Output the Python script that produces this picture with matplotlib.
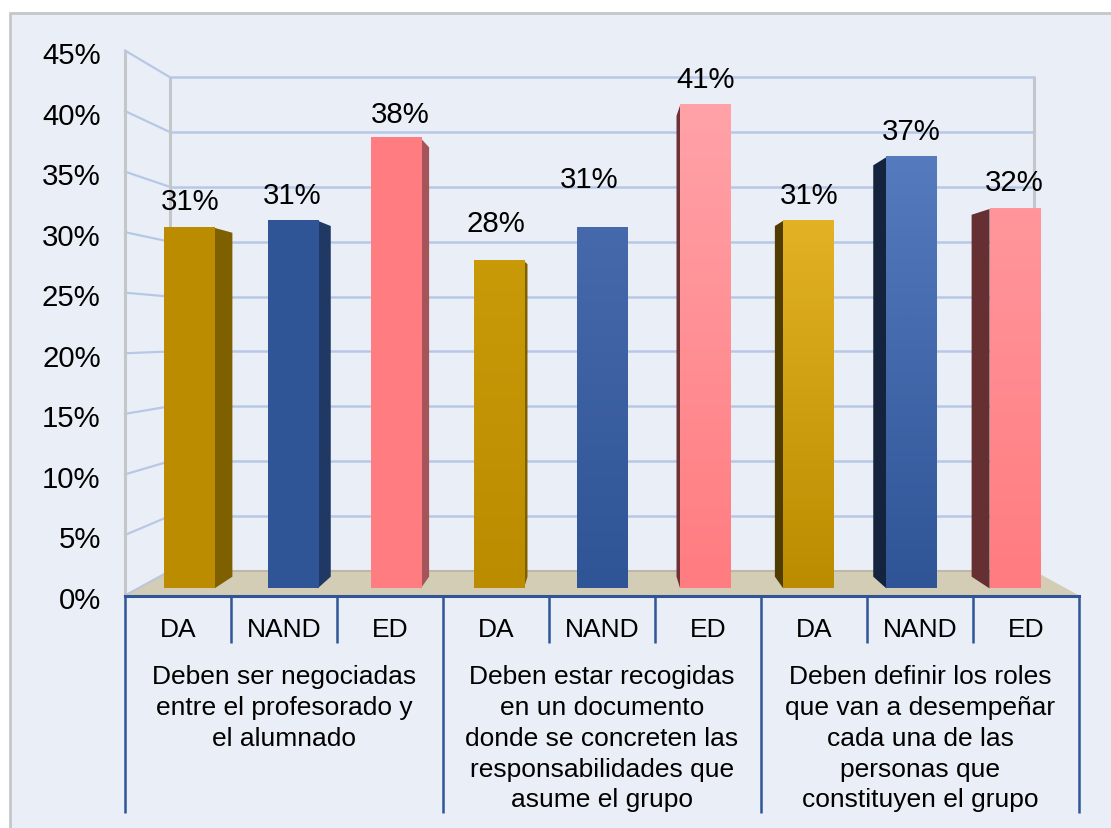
import numpy as np
import matplotlib
matplotlib.use('Agg')
import matplotlib.pyplot as plt
from matplotlib.colors import LinearSegmentedColormap
from matplotlib.patches import Polygon, Rectangle
from matplotlib.transforms import ScaledTranslation

plt.rcParams['font.family'] = ['Liberation Sans', 'DejaVu Sans']

# data
sub_labels = ['DA', 'NAND', 'ED', 'DA', 'NAND', 'ED', 'DA', 'NAND', 'ED']
values = [30.6, 31.2, 38.2, 27.8, 30.6, 41.0, 31.2, 36.6, 32.2]
group_labels = [
    'Deben ser negociadas\nentre el profesorado y\nel alumnado',
    'Deben estar recogidas\nen un documento\ndonde se concreten las\nresponsabilidades que\nasume el grupo',
    'Deben definir los roles\nque van a desempeñar\ncada una de las\npersonas que\nconstituyen el grupo',
]
y_ticks = [0, 5, 10, 15, 20, 25, 30, 35, 40, 45]

# bar styles: (colour at the top, colour at the bottom, side colour)
bar_styles = [
    ('#BC8C00', '#BC8C00', '#7F6000'), ('#2F5597', '#2F5597', '#1F3864'), ('#FF7C80', '#FF7C80', '#A5555A'),
    ('#C89A08', '#BC8C00', '#7F6000'), ('#4669AB', '#2F5597', '#1F3864'), ('#FFA2A8', '#FF7C80', '#6E3236'),
    ('#E2B224', '#BC8C00', '#503C00'), ('#557ABD', '#2F5597', '#14243F'), ('#FF969B', '#FF7C80', '#663033'),
]
# label offsets from the bar's top centre, in pixels
label_offsets = [(1, 27), (0, 26), (4, 24), (-3, 38), (-13, 49), (0, 26), (1, 26), (0, 26), (0, 27)]

W, H = 1111, 829
bg = '#EAEFF7'
grid_c = '#B7C8E6'
wall_c = '#C4C6CA'
axis_c = '#2F5597'
floor_c = '#D3CDB6'

# perspective of the fake 3d box, in data units
x_van, y_van = 4.0, 21.6
box_shrink = 0.905   # back wall
bar_front = 0.973
bar_back = 0.928
bar_width = 0.472


def proj(x, y, s):
    return x_van + (x - x_van) * s, y_van + (y - y_van) * s


fig = plt.figure(figsize=(W / 100, H / 100), dpi=100, facecolor='white')
# panel runs off the right and bottom edges, only left and top borders show
fig.add_artist(Rectangle((10 / W, -0.02), 1.0, (H - 14) / H + 0.02, transform=fig.transFigure,
                         facecolor=bg, edgecolor=wall_c, linewidth=2, zorder=-1))

ax = fig.add_axes([125 / W, (H - 596.5) / H, 954 / W, 545 / H])
ax.set_xlim(-0.5, 8.5)
ax.set_ylim(0, 45)
ax.patch.set_alpha(0)
for s in ax.spines.values():
    s.set_visible(False)
ax.set_autoscale_on(False)

ax.set_xticks([])
ax.set_yticks(y_ticks)
ax.set_yticklabels([f'{v}%' for v in y_ticks], fontsize=21.2)
ax.tick_params(axis='y', length=0, pad=17.5)
down = ScaledTranslation(0, -1.5 / 100, fig.dpi_scale_trans)
for t in ax.get_yticklabels():
    t.set_transform(t.get_transform() + down)

# walls and gridlines
for v in y_ticks[1:]:
    x0, y0 = proj(-0.5, v, box_shrink)
    x1, _ = proj(8.5, v, box_shrink)
    ax.plot([-0.5, x0], [v, y0], color=grid_c, lw=1.6, zorder=1, clip_on=False)
    ax.plot([x0, x1], [y0, y0], color=grid_c, lw=1.8, zorder=1, clip_on=False)

xb0, yb0 = proj(-0.5, 0, box_shrink)
xb1, _ = proj(8.5, 0, box_shrink)
_, ybt = proj(-0.5, 45, box_shrink)
ax.plot([-0.5, -0.5], [0, 45], color=wall_c, lw=2.2, zorder=1.5, clip_on=False, solid_capstyle='butt')
ax.plot([xb0, xb0], [yb0, ybt], color=wall_c, lw=2.2, zorder=1.5, clip_on=False, solid_capstyle='butt')
ax.plot([xb1, xb1], [yb0, ybt], color=wall_c, lw=2.2, zorder=1.5, clip_on=False, solid_capstyle='butt')

# floor
ax.add_patch(Polygon([(-0.5, 0), (8.5, 0), (xb1, yb0), (xb0, yb0)], closed=True, facecolor=floor_c,
                     edgecolor='none', zorder=2, clip_on=False))
ax.plot([xb0, xb1], [yb0, yb0], color='#BDB8A8', lw=1.5, zorder=2.1, clip_on=False)
ax.plot([-0.5, xb0], [0, yb0], color='#BCC6D8', lw=1.5, zorder=2.1, clip_on=False)

# bars
for i, v in enumerate(values):
    top_c, bot_c, side_c = bar_styles[i]
    xl = i - bar_width / 2 / bar_front
    xr = i + bar_width / 2 / bar_front
    # side face towards the vanishing point
    if i != 4:
        xe = xr if i < 4 else xl
        side = [proj(xe, 0, bar_front), proj(xe, v, bar_front), proj(xe, v, bar_back), proj(xe, 0, bar_back)]
        ax.add_patch(Polygon(side, closed=True, facecolor=side_c, edgecolor='none', zorder=3, clip_on=False))
    # front face
    fx0, fy0 = proj(xl, 0, bar_front)
    fx1, fy1 = proj(xr, v, bar_front)
    cmap = LinearSegmentedColormap.from_list('bar', [top_c, bot_c])
    ax.imshow(np.linspace(0, 1, 64).reshape(-1, 1), extent=(fx0, fx1, fy0, fy1), origin='upper', cmap=cmap,
              aspect='auto', zorder=4, clip_on=False, interpolation='bilinear')
    dx, dy = label_offsets[i]
    ax.annotate(f'{v:.0f}%', xy=((fx0 + fx1) / 2, fy1), xytext=(dx, dy), textcoords='offset pixels',
                ha='center', va='center', fontsize=21.2, color='black', zorder=6, annotation_clip=False)

# multi level category axis
ax.plot([-0.5, 8.5], [0, 0], color=axis_c, lw=2.2, zorder=5, clip_on=False)
y_in, y_out = -47 / 12.11, -217 / 12.11
for k in range(10):
    y_end = y_out if k % 3 == 0 else y_in
    ax.plot([k - 0.5, k - 0.5], [0, y_end], color=axis_c, lw=1.8, zorder=5, clip_on=False, solid_capstyle='butt')

for i, lab in enumerate(sub_labels):
    ax.text(i, -33.5 / 12.11, lab, ha='center', va='center', fontsize=19)

for g, lab in enumerate(group_labels):
    ax.text(3 * g + 1, -68.5 / 12.11, lab, ha='center', va='top', fontsize=19, linespacing=1.36)

fig.savefig('out.png', dpi=100, facecolor='white')
plt.close()
